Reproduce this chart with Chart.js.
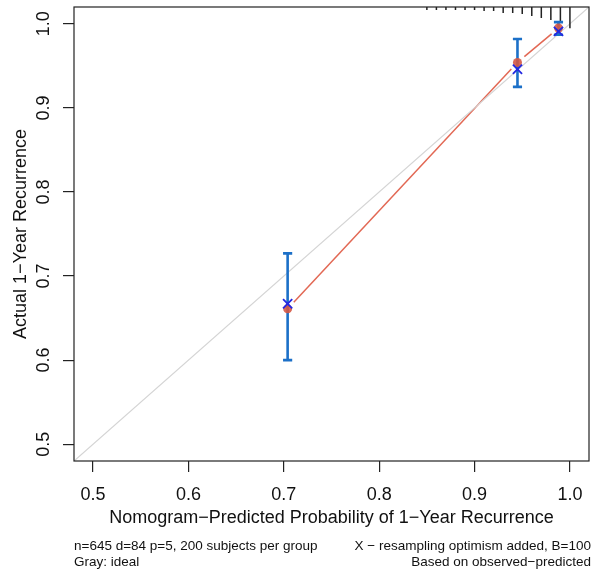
<!DOCTYPE html>
<html>
<head>
<meta charset="utf-8">
<script src="https://cdn.jsdelivr.net/npm/chart.js@4.4.1/dist/chart.umd.min.js"></script>
<style>
  body { margin: 0; background: #fff; }
  canvas { display: block; }
</style>
</head>
<body>
<canvas id="miGraficaCalibracion" width="592" height="571"></canvas>
<script>
// group means of predicted probability, observed and bias corrected
var predichos = [0.704, 0.945, 0.988];
var observados = [0.661, 0.954, 0.995];
var corregidos = [0.667, 0.946, 0.991];
var ciInferior = [0.600, 0.925, 0.987];
var ciSuperior = [0.727, 0.982, 1.002];

// spike histogram of predictions (top of plot)
var rugX = [0.85, 0.86, 0.87, 0.88, 0.89, 0.90, 0.91, 0.92, 0.93, 0.94, 0.95, 0.96, 0.97, 0.98, 0.99, 1.00];
var rugFrecuencia = [3, 3, 3, 3, 3, 3, 4, 4, 6, 6, 7, 9, 11, 13, 14, 21];

var ticksEje = [0.5, 0.6, 0.7, 0.8, 0.9, 1.0];
var etiquetasEje = ['0.5', '0.6', '0.7', '0.8', '0.9', '1.0'];
var rangoEje = [0.48, 1.02];

var tituloX = 'Nomogram\u2212Predicted Probability of 1\u2212Year Recurrence';
var tituloY = 'Actual 1\u2212Year Recurrence';
var notasIzq = ['n=645 d=84 p=5, 200 subjects per group', 'Gray: ideal'];
var notasDer = ['X \u2212 resampling optimism added, B=100', 'Based on observed\u2212predicted'];

var fuente = "'Liberation Sans', Arial, Helvetica, sans-serif";

function puntos(xs, ys) {
  var res = [];
  for (var i = 0; i < xs.length; i++) res.push({x: xs[i], y: ys[i]});
  return res;
}

// rug segments, separated with null
var datosRug = [];
var escalaRug = 0.0012;
for (var i = 0; i < rugX.length; i++) {
  datosRug.push({x: rugX[i], y: rangoEje[1]});
  datosRug.push({x: rugX[i], y: rangoEje[1] - rugFrecuencia[i] * escalaRug});
  datosRug.push({x: rugX[i], y: null});
}

// error bars with caps
var datosError = [];
var capa = 0.0048;
for (var i = 0; i < predichos.length; i++) {
  datosError.push({x: predichos[i], y: ciInferior[i]});
  datosError.push({x: predichos[i], y: ciSuperior[i]});
  datosError.push({x: predichos[i], y: null});
  datosError.push({x: predichos[i] - capa, y: ciInferior[i]});
  datosError.push({x: predichos[i] + capa, y: ciInferior[i]});
  datosError.push({x: predichos[i], y: null});
  datosError.push({x: predichos[i] - capa, y: ciSuperior[i]});
  datosError.push({x: predichos[i] + capa, y: ciSuperior[i]});
  datosError.push({x: predichos[i], y: null});
}

var pluginExtras = {
  id: 'extras',
  beforeDatasetsDraw: function(chart) {
    var ctx = chart.ctx;
    var xs = chart.scales.x, ys = chart.scales.y;
    // observed line (type "b": gaps near the points)
    var hueco = 9;
    ctx.save();
    ctx.strokeStyle = 'rgb(226,104,84)';
    ctx.lineWidth = 1.5;
    for (var i = 0; i < predichos.length - 1; i++) {
      var x0 = xs.getPixelForValue(predichos[i]), y0 = ys.getPixelForValue(observados[i]);
      var x1 = xs.getPixelForValue(predichos[i + 1]), y1 = ys.getPixelForValue(observados[i + 1]);
      var d = Math.sqrt((x1 - x0) * (x1 - x0) + (y1 - y0) * (y1 - y0));
      var ux = (x1 - x0) / d, uy = (y1 - y0) / d;
      ctx.beginPath();
      ctx.moveTo(x0 + ux * hueco, y0 + uy * hueco);
      ctx.lineTo(x1 - ux * hueco, y1 - uy * hueco);
      ctx.stroke();
    }
    ctx.restore();
  },
  afterDraw: function(chart) {
    var ctx = chart.ctx;
    var a = chart.chartArea;
    ctx.save();
    ctx.strokeStyle = '#222';
    ctx.lineWidth = 1.2;
    ctx.strokeRect(a.left, a.top, a.right - a.left, a.bottom - a.top);

    // y tick labels, rotated like R
    ctx.fillStyle = '#111';
    ctx.font = '18px ' + fuente;
    ctx.textAlign = 'center';
    ctx.textBaseline = 'middle';
    for (var i = 0; i < ticksEje.length; i++) {
      var py = chart.scales.y.getPixelForValue(ticksEje[i]);
      ctx.save();
      ctx.translate(44, py);
      ctx.rotate(-Math.PI / 2);
      ctx.fillText(etiquetasEje[i], 0, 0);
      ctx.restore();
    }

    // footnotes
    ctx.font = '13.5px ' + fuente;
    ctx.textAlign = 'left';
    ctx.fillText(notasIzq[0], a.left, 546);
    ctx.fillText(notasIzq[1], a.left, 562);
    ctx.textAlign = 'right';
    ctx.fillText(notasDer[0], 591, 546);
    ctx.fillText(notasDer[1], 591, 562);
    ctx.restore();
  }
};

let miCanvas = document.getElementById('miGraficaCalibracion').getContext('2d');

var grafica = new Chart(miCanvas, {
  type: 'scatter',
  data: {
    datasets: [
      {
        label: 'corregido',
        data: puntos(predichos, corregidos),
        pointStyle: 'crossRot',
        pointRadius: 6.5,
        pointBorderColor: 'rgb(35,40,225)',
        pointBorderWidth: 1.8,
        showLine: false,
        order: 1
      },
      {
        label: 'observado',
        data: puntos(predichos, observados),
        pointStyle: 'circle',
        pointRadius: 4.5,
        pointBackgroundColor: 'rgba(214,88,68,0.9)',
        pointBorderColor: 'rgba(214,88,68,0.9)',
        pointBorderWidth: 0,
        showLine: false,
        order: 2
      },
      {
        label: 'error',
        data: datosError,
        showLine: true,
        spanGaps: false,
        borderColor: 'rgb(28,112,200)',
        borderWidth: 2.6,
        pointRadius: 0,
        order: 3
      },
      {
        label: 'rug',
        data: datosRug,
        showLine: true,
        spanGaps: false,
        borderColor: '#222',
        borderWidth: 1.5,
        pointRadius: 0,
        order: 4
      },
      {
        label: 'ideal',
        data: [{x: rangoEje[0], y: rangoEje[0]}, {x: rangoEje[1], y: rangoEje[1]}],
        showLine: true,
        borderColor: '#d4d4d4',
        borderWidth: 1.2,
        pointRadius: 0,
        order: 5
      }
    ]
  },
  options: {
    responsive: false,
    animation: false,
    devicePixelRatio: 1,
    layout: { autoPadding: false, padding: { left: 0, right: 3, top: 7, bottom: 0 } },
    plugins: { legend: { display: false }, tooltip: { enabled: false } },
    scales: {
      x: {
        type: 'linear',
        min: rangoEje[0],
        max: rangoEje[1],
        afterBuildTicks: function(scale) {
          scale.ticks = ticksEje.map(function(v) { return {value: v}; });
        },
        afterFit: function(scale) {
          scale.height = 110;
          scale.paddingLeft = 0;
          scale.paddingRight = 0;
        },
        ticks: {
          callback: function(v) { return etiquetasEje[ticksEje.indexOf(v)]; },
          font: { family: fuente, size: 18 },
          color: '#111',
          padding: 12,
          maxRotation: 0,
          autoSkip: false
        },
        grid: { drawOnChartArea: false, drawTicks: true, tickLength: 11, color: '#222', lineWidth: 1.2 },
        border: { display: false },
        title: {
          display: true,
          text: tituloX,
          font: { family: fuente, size: 18 },
          color: '#111',
          padding: { top: 0, bottom: 42 }
        }
      },
      y: {
        type: 'linear',
        min: rangoEje[0],
        max: rangoEje[1],
        afterBuildTicks: function(scale) {
          scale.ticks = ticksEje.map(function(v) { return {value: v}; });
        },
        afterFit: function(scale) {
          scale.width = 74;
          scale.paddingTop = 0;
          scale.paddingBottom = 0;
        },
        ticks: { display: false },
        grid: { drawOnChartArea: false, drawTicks: true, tickLength: 11, color: '#222', lineWidth: 1.2 },
        border: { display: false },
        title: {
          display: true,
          text: tituloY,
          font: { family: fuente, size: 18 },
          color: '#111',
          padding: { top: 10, bottom: 0 }
        }
      }
    }
  },
  plugins: [pluginExtras]
});
</script>
</body>
</html>
